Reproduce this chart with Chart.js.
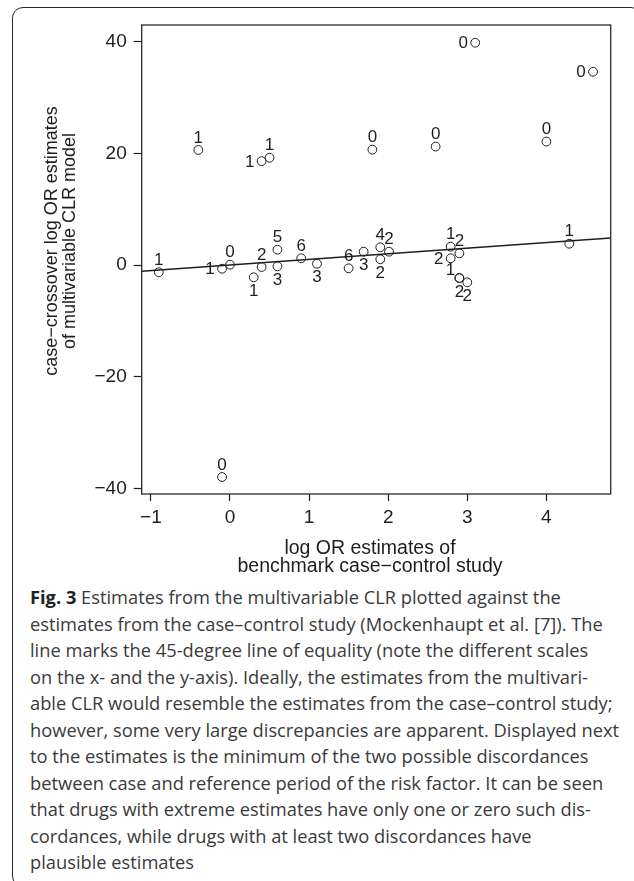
<!DOCTYPE html>
<html>
<head>
<meta charset="utf-8">
<script src="https://cdn.jsdelivr.net/npm/chart.js@4/dist/chart.umd.min.js"></script>
<style>
  html, body { margin:0; padding:0; background:#fff; width:634px; height:881px; overflow:hidden; }
  #frame { position:absolute; left:12px; top:7px; width:630px; height:880px; border:1.5px solid #2a2a2a; border-radius:11px; box-sizing:border-box; }
  #wrap { position:absolute; left:0; top:0; width:634px; height:582px; }
  #caption { position:absolute; left:30px; top:584px; font-family:"Open Sans", sans-serif; font-size:18.3px; line-height:26.5px; color:#3a3a3a; white-space:nowrap; }
  #caption b { color:#222; }
</style>
</head>
<body>
<div id="frame"></div>
<div id="wrap"><canvas id="c" width="634" height="582"></canvas></div>
<div id="caption"><b>Fig. 3</b> Estimates from the multivariable CLR plotted against the<br>estimates from the case–control study (Mockenhaupt et al. [7]). The<br>line marks the 45-degree line of equality (note the different scales<br>on the x- and the y-axis). Ideally, the estimates from the multivari-<br>able CLR would resemble the estimates from the case–control study;<br>however, some very large discrepancies are apparent. Displayed next<br>to the estimates is the minimum of the two possible discordances<br>between case and reference period of the risk factor. It can be seen<br>that drugs with extreme estimates have only one or zero such dis-<br>cordances, while drugs with at least two discordances have<br>plausible estimates</div>
<script>
// ---- data ----
const benchmarkLogOR = [-0.90, -0.40, -0.10, -0.10, 0.00, 0.30, 0.40, 0.40, 0.50, 0.60, 0.60, 0.90, 1.10, 1.50, 1.69, 1.80, 1.90, 1.90, 2.01, 2.60, 2.79, 2.79, 2.90, 2.90, 2.90, 3.00, 3.10, 4.00, 4.29, 4.59];
const crossoverLogOR = [-1.3, 20.6, -0.66, -37.96, 0.06, -2.2, 18.6, -0.36, 19.2, 2.74, -0.23, 1.2, 0.23, -0.59, 2.38, 20.65, 3.17, 1.02, 2.38, 21.2, 3.28, 1.2, 2.09, -2.33, -2.33, -3.1, 39.8, 22.1, 3.81, 34.6];
const discordances = [1, 1, 1, 0, 0, 1, 1, 2, 1, 5, 3, 6, 3, 6, 3, 0, 4, 2, 2, 0, 1, 2, 2, 2, 1, 2, 0, 0, 1, 0];
const labelSide = ['top','top','left','top','top','bottom','left','top','top','top','bottom','top','bottom','top','bottom','top','top','bottom','top','top','top','left','top','bottom','topleft','bottom','left','top','top','left'];
const xTicks = [-1, 0, 1, 2, 3, 4];
const yTicks = [-40, -20, 0, 20, 40];
const xTitle = ['log OR estimates of', 'benchmark case\u2212control study'];
const yTitle = ['case\u2212crossover log OR estimates', 'of multivariable CLR model'];
const xRange = [-1.116, 4.813];
const yRange = [-41.0, 42.97];

const FONT = '"Liberation Sans", Arial, Helvetica, sans-serif';
const INK = '#1e1e1e';

const points = benchmarkLogOR.map((x, i) => ({ x: x, y: crossoverLogOR[i] }));
const equality = xRange.map(v => ({ x: v, y: v }));

const offsets = { top:[0,-13], bottom:[0,13], left:[-12,0], topleft:[-9,-9] };

const labelPlugin = {
  id: 'pointLabels',
  afterDatasetsDraw(chart) {
    const ctx = chart.ctx;
    const meta = chart.getDatasetMeta(1);
    ctx.save();
    ctx.font = '17px ' + FONT;
    ctx.fillStyle = INK;
    ctx.textAlign = 'center';
    ctx.textBaseline = 'middle';
    meta.data.forEach((el, i) => {
      const o = offsets[labelSide[i]];
      ctx.fillText(String(discordances[i]), el.x + o[0], el.y + o[1] + 1);
    });
    ctx.restore();
  }
};

const framePlugin = {
  id: 'boxAndTitles',
  afterDraw(chart) {
    const ctx = chart.ctx, a = chart.chartArea;
    ctx.save();
    ctx.strokeStyle = '#2a2a2a';
    ctx.lineWidth = 1.3;
    ctx.strokeRect(a.left, a.top, a.right - a.left, a.bottom - a.top);
    ctx.fillStyle = INK;
    ctx.textAlign = 'center';
    ctx.textBaseline = 'alphabetic';
    // x title
    ctx.font = '19.5px ' + FONT;
    const xc = 370;
    xTitle.forEach((t, i) => ctx.fillText(t, xc, 554 + i * 17.5));
    // y title
    ctx.font = '18px ' + FONT;
    yTitle.forEach((t, i) => {
      ctx.save();
      ctx.translate(57 + i * 17.5, 241);
      ctx.rotate(-Math.PI / 2);
      ctx.fillText(t, 0, 0);
      ctx.restore();
    });
    ctx.restore();
  }
};

const fmt = v => String(v).replace('-', '\u2212');

new Chart(document.getElementById('c'), {
  data: {
    datasets: [
      { type: 'line', data: equality, borderColor: INK, borderWidth: 1.5, pointRadius: 0, fill: false, tension: 0 },
      { type: 'scatter', data: points, pointRadius: 4.4, pointHoverRadius: 4.4, pointBorderColor: INK, pointBackgroundColor: 'rgba(0,0,0,0)', pointBorderWidth: 1 }
    ]
  },
  options: {
    responsive: false,
    animation: false,
    events: [],
    layout: { padding: { left: 0, top: 25, right: 23.3, bottom: 0 } },
    plugins: { legend: { display: false }, tooltip: { enabled: false } },
    scales: {
      x: {
        type: 'linear', min: xRange[0], max: xRange[1],
        afterBuildTicks: s => { s.ticks = xTicks.map(v => ({ value: v })); },
        afterFit: s => { s.height = 582 - 494; },
        border: { display: false },
        grid: { drawOnChartArea: false, drawTicks: true, tickLength: 7, color: INK, tickWidth: 1.2 },
        ticks: { color: INK, font: { family: FONT, size: 19 }, padding: 5, maxRotation: 0, autoSkip: false, callback: v => fmt(v) }
      },
      y: {
        type: 'linear', min: yRange[0], max: yRange[1],
        afterBuildTicks: s => { s.ticks = yTicks.map(v => ({ value: v })); },
        afterFit: s => { s.width = 141.7; },
        border: { display: false },
        grid: { drawOnChartArea: false, drawTicks: true, tickLength: 8, color: INK, tickWidth: 1.2 },
        ticks: { color: INK, font: { family: FONT, size: 19 }, padding: 7, autoSkip: false, callback: v => fmt(v) }
      }
    }
  },
  plugins: [labelPlugin, framePlugin]
});
</script>
</body>
</html>
